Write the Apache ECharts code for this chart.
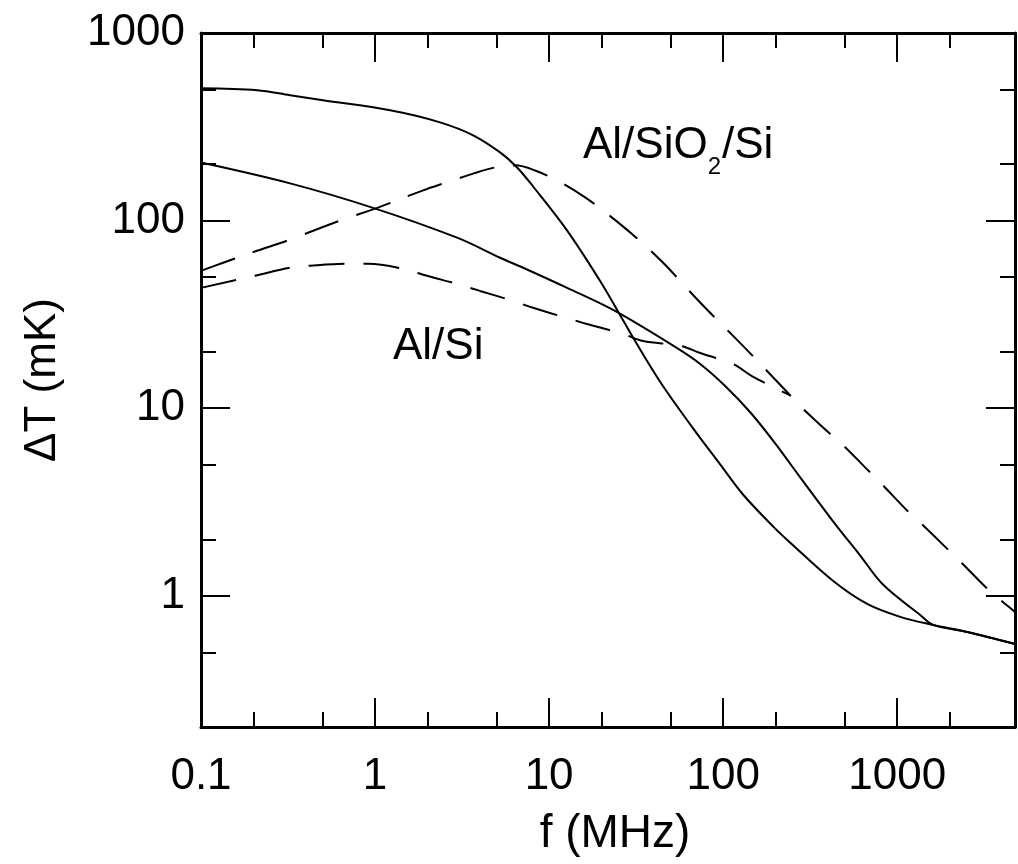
<!DOCTYPE html>
<html><head><meta charset="utf-8">
<script src="https://cdn.jsdelivr.net/npm/echarts@6/dist/echarts.min.js"></script>
<style>html,body{margin:0;padding:0;background:#fff}#c{width:1018px;height:864px}</style>
</head><body><div id="c"></div>
<script>
const FONT = '"Liberation Sans", Arial, Helvetica, sans-serif';

// ---- data ----
const solid1F = [0.1, 0.21, 0.325, 0.502, 1.22, 2.36, 3.66, 5.23, 6.55, 8.09, 12.7, 19.6, 24.6, 31.2, 43.5, 64.6, 96.1, 130, 194, 243, 429, 672, 1041, 1610, 2525, 4750];
const solid1T = [508, 496, 466, 438, 387, 334, 285, 231, 192, 152, 88.4, 47.8, 33.4, 22.8, 13.8, 8.21, 5.02, 3.47, 2.34, 1.92, 1.20, 0.906, 0.773, 0.700, 0.642, 0.554];

const solid2F = [0.1, 0.325, 0.974, 2.96, 5.23, 7.09, 12.7, 23.9, 54.4, 73.8, 103, 143, 199, 277, 429, 613, 831, 1356, 1610, 2525, 4750];
const solid2T = [204, 158, 117, 81.1, 63.4, 56.1, 43.8, 33.0, 20.9, 17.2, 13.1, 9.52, 6.50, 4.28, 2.49, 1.64, 1.145, 0.791, 0.700, 0.642, 0.554];

const dashed1F = [0.1, 0.134, 0.21, 0.312, 0.63, 1.03, 1.89, 2.59, 3.66, 4.89, 6.38, 8.31, 11.6, 16.1, 21.5, 31.2, 45.2, 62.9, 78.9, 107, 130, 181, 243, 270, 396, 483, 672, 820, 1157, 1392, 1964, 2394, 3334, 4176, 4750];
const dashed1T = [54.0, 59.6, 69.1, 78.2, 100, 117, 145, 160, 178, 192, 197, 185, 160, 133, 109, 82.1, 59.6, 42.8, 34.3, 25.8, 21.5, 15.6, 11.7, 10.5, 7.53, 6.42, 4.72, 3.92, 2.81, 2.40, 1.76, 1.47, 1.08, 0.906, 0.82];

const dashed2F = [0.1, 0.204, 0.325, 0.423, 0.69, 0.912, 1.45, 1.99, 2.96, 4.01, 6.21, 8.09, 13.2, 16.5, 26.6, 34.7, 56.6, 73.8, 114, 147, 243];
const dashed2T = [43.8, 50.8, 56.1, 57.5, 58.9, 58.9, 55.4, 50.8, 46.0, 42.2, 37.3, 34.3, 29.9, 28.1, 24.9, 22.8, 21.5, 19.7, 17.2, 14.8, 11.7];

const xRange = [0.1, 4750];
const yRange = [0.2, 1000];
const xMajorTicks = [0.1, 1, 10, 100, 1000];
const xTickLabels = ['0.1', '1', '10', '100', '1000'];
const xMinorTicks = [0.2, 0.5, 2, 5, 20, 50, 200, 500, 2000];
const yMajorTicks = [1, 10, 100, 1000];
const yTickLabels = ['1', '10', '100', '1000'];
const yMinorTicks = [0.5, 2, 5, 20, 50, 200, 500];

const xName = 'f (MHz)';
const yName = 'ΔT (mK)';
const labelOxide = ['Al/SiO', '2', '/Si'];   // main, subscript, main
const labelSi = 'Al/Si';

// ---- build ----
function pairs(f, t) { return f.map((v, i) => [v, t[i]]); }
const BLACK = '#000';

function xAxisDef(pos, ticks, len, line, labels) {
  return {
    type: 'log', logBase: 10, min: xRange[0], max: xRange[1], position: pos,
    axisLine: { show: line, lineStyle: { color: BLACK, width: 3 } },
    axisTick: { show: true, inside: true, length: len, customValues: ticks, lineStyle: { color: BLACK, width: 2 } },
    axisLabel: labels ? {
      show: true, customValues: ticks, margin: 28, color: BLACK, fontSize: 44, fontFamily: FONT,
      formatter: v => { const i = xMajorTicks.findIndex(t => Math.abs(t - v) / t < 1e-6); return i >= 0 ? xTickLabels[i] : ''; }
    } : { show: false },
    splitLine: { show: false }, minorTick: { show: false },
    name: labels ? xName : '', nameLocation: 'middle', nameGap: 84,
    nameTextStyle: { color: BLACK, fontSize: 46, fontFamily: FONT, padding: [0, 0, 0, 14] }
  };
}
function yAxisDef(pos, ticks, len, line, labels) {
  return {
    type: 'log', logBase: 10, min: yRange[0], max: yRange[1], position: pos,
    axisLine: { show: line, lineStyle: { color: BLACK, width: 3 } },
    axisTick: { show: true, inside: true, length: len, customValues: ticks, lineStyle: { color: BLACK, width: 2 } },
    axisLabel: labels ? {
      show: true, customValues: ticks, margin: 16, color: BLACK, fontSize: 44, fontFamily: FONT,
      formatter: v => { const i = yMajorTicks.findIndex(t => Math.abs(t - v) / t < 1e-6); return i >= 0 ? yTickLabels[i] : ''; }
    } : { show: false },
    splitLine: { show: false }, minorTick: { show: false },
    name: labels ? yName : '', nameLocation: 'middle', nameGap: 136, nameRotate: 90,
    nameTextStyle: { color: BLACK, fontSize: 44, fontFamily: FONT }
  };
}

function lineSeries(name, f, t, dashed) {
  return {
    name, type: 'line', xAxisIndex: 0, yAxisIndex: 0, data: pairs(f, t),
    showSymbol: false, symbol: 'none', smooth: 0.35, clip: true, silent: true,
    lineStyle: { color: BLACK, width: 2, type: dashed ? [36, 19] : 'solid', cap: 'butt' }
  };
}

// measure text widths for the subscripted label
const ctx = document.createElement('canvas').getContext('2d');
function textW(s, size) { ctx.font = size + 'px ' + FONT; return ctx.measureText(s).width; }
const MAIN = 44, SUB = 24;
const oxX = 583, oxTop = 124;
const w0 = textW(labelOxide[0], MAIN), w1 = textW(labelOxide[1], SUB);

const chart = echarts.init(document.getElementById('c'), null, { renderer: 'canvas' });
chart.setOption({
  backgroundColor: '#fff',
  animation: false,
  grid: { left: 201, right: 3, top: 33, bottom: 137, containLabel: false },
  xAxis: [
    xAxisDef('bottom', xMajorTicks, 29, true, true),
    xAxisDef('top', xMajorTicks, 29, true, false),
    xAxisDef('bottom', xMinorTicks, 15, false, false),
    xAxisDef('top', xMinorTicks, 15, false, false)
  ],
  yAxis: [
    yAxisDef('left', yMajorTicks, 29, true, true),
    yAxisDef('right', yMajorTicks, 29, true, false),
    yAxisDef('left', yMinorTicks, 15, false, false),
    yAxisDef('right', yMinorTicks, 15, false, false)
  ],
  series: [
    lineSeries('solid 1', solid1F, solid1T, false),
    lineSeries('solid 2', solid2F, solid2T, false),
    lineSeries('dashed 1', dashed1F, dashed1T, true),
    lineSeries('dashed 2', dashed2F, dashed2T, true)
  ],
  graphic: [
    { type: 'text', x: oxX, y: oxTop, silent: true,
      style: { text: labelOxide[0], fill: BLACK, font: MAIN + 'px ' + FONT, verticalAlign: 'top', align: 'left' } },
    { type: 'text', x: oxX + w0, y: oxTop + 31, silent: true,
      style: { text: labelOxide[1], fill: BLACK, font: SUB + 'px ' + FONT, verticalAlign: 'top', align: 'left' } },
    { type: 'text', x: oxX + w0 + w1 + 1, y: oxTop, silent: true,
      style: { text: labelOxide[2], fill: BLACK, font: MAIN + 'px ' + FONT, verticalAlign: 'top', align: 'left' } },
    { type: 'text', x: 393, y: 325, silent: true,
      style: { text: labelSi, fill: BLACK, font: MAIN + 'px ' + FONT, verticalAlign: 'top', align: 'left' } }
  ]
});
</script></body></html>
